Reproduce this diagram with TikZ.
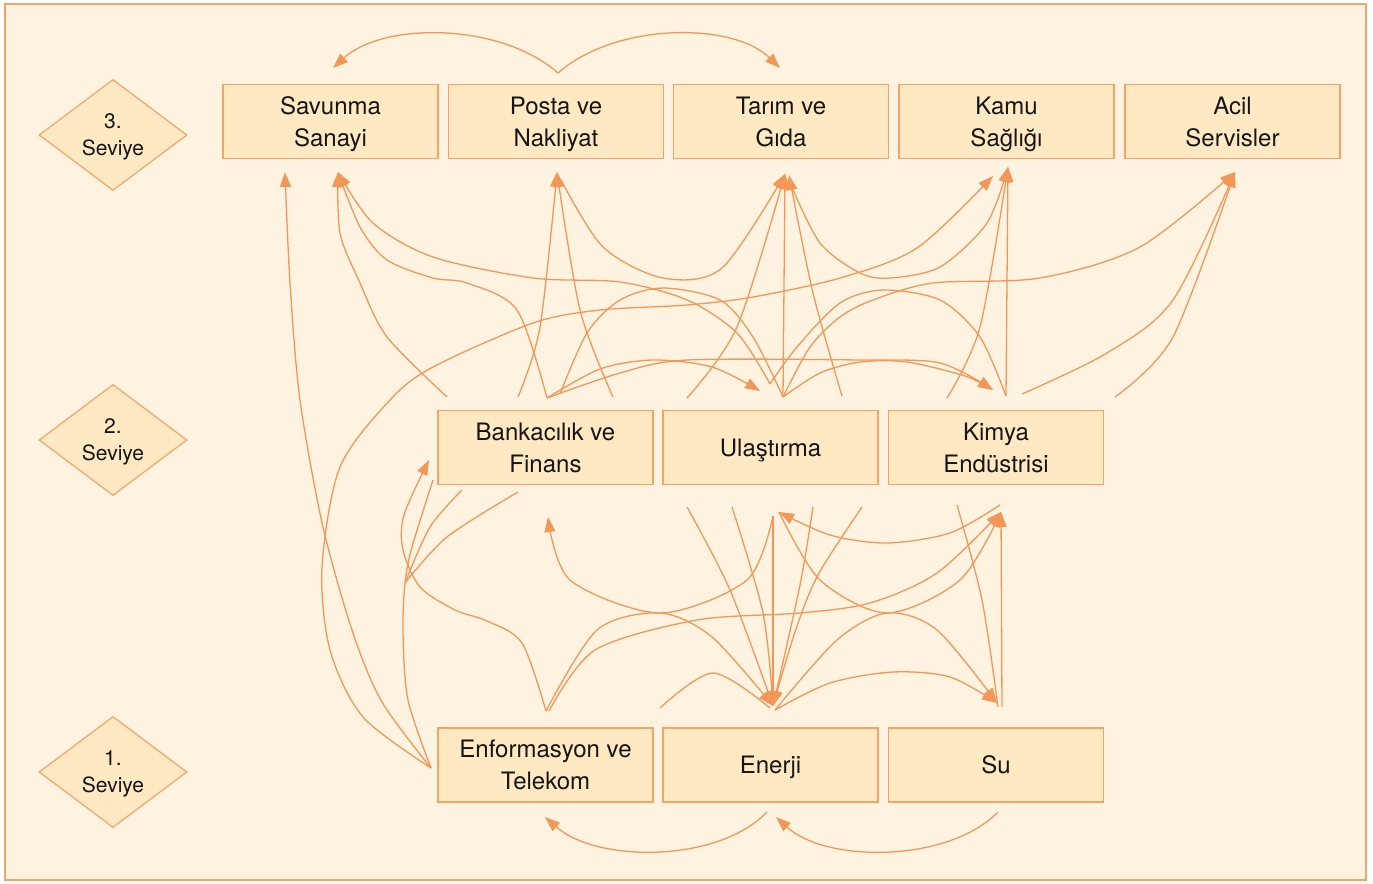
\documentclass[tikz,border=0pt]{standalone}
\usepackage{fontspec}
\setmainfont{TeX Gyre Heros}
\usetikzlibrary{arrows.meta,shapes.geometric}
\definecolor{paper}{HTML}{FEF3E1}
\definecolor{boxfill}{HTML}{FFE9C3}
\definecolor{edge}{HTML}{F5A466}
\definecolor{linkc}{HTML}{F39757}
\definecolor{ink}{HTML}{151515}
\begin{document}
\begin{tikzpicture}[x=0.5pt,y=-0.5pt,
  sector/.style={draw=edge, line width=0.75pt, fill=boxfill, minimum width=107.5pt,
    minimum height=37pt, inner sep=0pt, align=center, text=ink, text depth=0pt,
    font=\fontsize{12}{16}\selectfont},
  level/.style={diamond, aspect=1.333, draw=edge, line width=0.6pt, fill=boxfill,
    minimum width=74pt, minimum height=55.5pt, inner sep=0pt, align=center, text=ink,
    text depth=0pt, font=\fontsize{10.5}{13.5}\selectfont},
  arr/.style={draw=linkc, line width=0.65pt, -{Triangle[length=7.5pt,width=5.5pt]}},
  bare/.style={draw=linkc, line width=0.65pt}]
\useasboundingbox (0,0) rectangle (1373,884);
\fill[white] (0,0) rectangle (1373,884);
\draw[edge, fill=paper, line width=0.8pt] (5,4) rectangle (1366,880);

% levels
\node[level] (lv3) at (113,135) {3.\\Seviye};
\node[level] (lv2) at (113,440) {2.\\Seviye};
\node[level] (lv1) at (113,772) {1.\\Seviye};

% level 3 sectors
\node[sector] (sav) at (330.5,121.5) {Savunma\\Sanayi};
\node[sector] (pos) at (556,121.5) {Posta ve\\Nakliyat};
\node[sector] (tar) at (781,121.5) {Tarım ve\\Gıda};
\node[sector] (kam) at (1006.5,121.5) {Kamu\\Sağlığı};
\node[sector] (aci) at (1232.5,121.5) {Acil\\Servisler};
% level 2 sectors
\node[sector] (ban) at (545.5,447.5) {Bankacılık ve\\Finans};
\node[sector] (ula) at (770.5,447.5) {Ulaştırma};
\node[sector] (kim) at (996,447.5) {Kimya\\Endüstrisi};
% level 1 sectors
\node[sector] (enf) at (545.5,765) {Enformasyon ve\\Telekom};
\node[sector] (ene) at (770.5,765) {Enerji};
\node[sector] (su)  at (996,765) {Su};

% connector ports
\coordinate (savT) at (333,68);
\coordinate (savB1) at (285,172);
\coordinate (savB2) at (338,172);
\coordinate (posT) at (558,73);
\coordinate (posB) at (557,172);
\coordinate (tarT) at (780,68);
\coordinate (tarB) at (785,174);
\coordinate (kamB1) at (993,176);
\coordinate (kamB2) at (1008,167);
\coordinate (aciB) at (1235,172);
\coordinate (banT1) at (447,397);
\coordinate (banT2) at (518,397);
\coordinate (banT3) at (547,398);
\coordinate (banT4) at (560,394);
\coordinate (banT5) at (613,397);
\coordinate (banL) at (429,460);
\coordinate (banB1) at (433,480);
\coordinate (banB2) at (462,490);
\coordinate (banB3) at (518,492);
\coordinate (banB4) at (548,517);
\coordinate (ulaT1) at (687,398);
\coordinate (ulaT2) at (760,391);
\coordinate (ulaT3) at (770,384);
\coordinate (ulaT4) at (783,397);
\coordinate (ulaT5) at (842,396);
\coordinate (ulaB1) at (687,507);
\coordinate (ulaB2) at (732,507);
\coordinate (ulaB3) at (773,516);
\coordinate (ulaB4) at (779,512);
\coordinate (ulaB5) at (813,507);
\coordinate (ulaB6) at (862,507);
\coordinate (kimT1) at (947,398);
\coordinate (kimT2) at (993,390);
\coordinate (kimT3) at (1006,396);
\coordinate (kimT4) at (1022,394);
\coordinate (kimR) at (1115,397);
\coordinate (kimB1) at (957,505);
\coordinate (kimB2) at (1001,512);
\coordinate (enfT) at (546,711);
\coordinate (enfL) at (431,768);
\coordinate (eneT) at (773,706);
\coordinate (eneTL) at (660,708);
\coordinate (eneB) at (767,812);
\coordinate (eneB2) at (776,817);
\coordinate (enfB) at (545,817);
\coordinate (suT) at (997,703);
\coordinate (suB) at (998,812);
\coordinate (fork) at (405,583);

% arcs over level 3
\draw[arr] (posT) .. controls (500,22) and (383,22) .. (savT);
\draw[arr] (posT) .. controls (616,22) and (733,22) .. (tarT);
% arcs under level 1
\draw[arr] (eneB) .. controls (718,863) and (597,863) .. (enfB);
\draw[arr] (suB) .. controls (948,863) and (826,863) .. (eneB2);

% level 1 to level 3
\draw[arr] plot[smooth] coordinates {(enfL) (382,702) (353,633) (323,527) (300,400) (290,283) (savB1)};
\draw[arr] plot[smooth] coordinates {(enfL) (363,717) (330,650) (322,567) (340,467) (390,400) (433,367) (533,323) (600,310) (687,305) (753,297) (840,278) (917,248) (kamB1)};

% level 1 to level 2
\draw[bare] plot[smooth] coordinates {(enfL) (408,700) (403,633) (fork) (412,547) (banB1)};
\draw[bare] plot[smooth] coordinates {(fork) (430,527) (banB2)};
\draw[bare] plot[smooth] coordinates {(fork) (447,537) (banB3)};
\draw[arr] plot[smooth] coordinates {(enfT) (522,643) (487,621) (455,610) (420,587) (403,550) (404,515) (banL)};
\draw[arr] plot[smooth] coordinates {(ulaB3) (747,580) (660,613) (570,580) (banB4)};
\draw[arr] plot[smooth] coordinates {(enfT) (597,630) (660,613) (712,637) (eneT)};
\draw[arr] plot[smooth] coordinates {(549,711) (595,650) (697,620) (800,613) (870,603) (937,573) (kimB2)};
\draw[bare] plot[smooth] coordinates {(eneTL) (713,673) (770,708)};
\draw[arr] plot[smooth] coordinates {(ulaB1) (730,590) (eneT)};
\draw[arr] plot[smooth] coordinates {(ulaB2) (763,613) (eneT)};
\draw[arr] plot[smooth] coordinates {(ulaB5) (800,585) (eneT)};
\draw[arr] plot[smooth] coordinates {(ulaB6) (818,575) (795,632) (eneT)};
\draw[arr] (ulaB3) -- (eneT);
\draw[arr] plot[smooth] coordinates {(ulaB4) (820,580) (887,613) (960,580) (kimB2)};
\draw[arr] plot[smooth] coordinates {(1000,505) (950,533) (887,543) (830,535) (ulaB4)};
\draw[arr] plot[smooth] coordinates {(775,710) (837,640) (887,613) (937,630) (suT)};
\draw[arr] plot[smooth] coordinates {(775,710) (830,683) (893,672) (950,677) (suT)};
\draw[bare] plot[smooth] coordinates {(kimB1) (982,600) (998,707)};
\draw[arr] (1002,707) -- (kimB2);

% level 2 to level 3
\draw[arr] plot[smooth] coordinates {(banT1) (387,337) (360,283) (340,233) (savB2)};
\draw[arr] plot[smooth] coordinates {(banT3) (517,310) (467,283) (433,278) (387,260) (360,227) (savB2)};
\draw[arr] plot[smooth] coordinates {(ulaT3) (737,333) (687,300) (620,282) (533,278) (433,257) (373,223) (savB2)};
\draw[arr] plot[smooth] coordinates {(banT2) (540,327) (posB)};
\draw[arr] plot[smooth] coordinates {(banT5) (580,310) (posB)};
\draw[arr] plot[smooth] coordinates {(561,180) (603,247) (663,278) (722,268) (tarB)};
\draw[arr] plot[smooth] coordinates {(790,183) (820,243) (860,273) (890,278) (940,267) (987,223) (kamB2)};
\draw[bare] plot[smooth] coordinates {(banT4) (587,333) (620,300) (663,288) (720,300) (753,337) (ulaT4)};
\draw[arr] plot[smooth] coordinates {(banT3) (600,369) (653,360) (712,367) (ulaT2)};
\draw[arr] plot[smooth] coordinates {(banT3) (620,373) (687,360) (860,360) (940,363) (kimT2)};
\draw[arr] plot[smooth] coordinates {(ulaT4) (820,373) (860,362) (907,362) (965,376) (kimT2)};
\draw[arr] plot[smooth] coordinates {(ulaT1) (737,327) (tarB)};
\draw[arr] (ulaT4) -- (tarB);
\draw[arr] plot[smooth] coordinates {(ulaT5) (813,293) (789,175)};
\draw[arr] plot[smooth] coordinates {(ulaT4) (810,347) (840,317) (873,300) (933,283) (1040,278) (1140,247) (aciB)};
\draw[bare] plot[smooth] coordinates {(ulaT3) (797,347) (840,303) (883,290) (940,300) (980,337) (kimT3)};
\draw[arr] (kimT3) -- (kamB2);
\draw[arr] plot[smooth] coordinates {(kimT1) (980,327) (kamB2)};
\draw[arr] plot[smooth] coordinates {(kimT4) (1107,353) (1173,300) (aciB)};
\draw[arr] plot[smooth] coordinates {(kimR) (1173,337) (aciB)};
\end{tikzpicture}
\end{document}
